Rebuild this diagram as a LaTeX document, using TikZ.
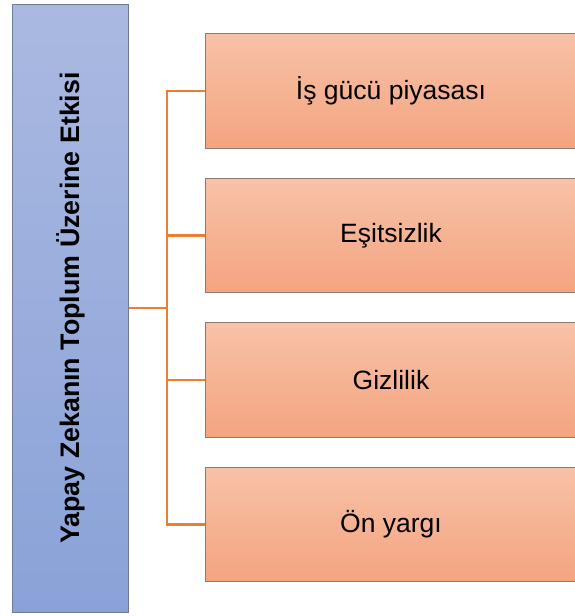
\documentclass[tikz,border=0pt]{standalone}
\usepackage{fontspec}
\setmainfont{Liberation Sans}
\definecolor{mainTop}{HTML}{AAB9E1}
\definecolor{mainBot}{HTML}{8AA2D8}
\definecolor{mainLine}{HTML}{6E7B93}
\definecolor{subTop}{HTML}{F7C2A8}
\definecolor{subBot}{HTML}{F4A47F}
\definecolor{subLine}{HTML}{8A7A72}
\definecolor{conn}{HTML}{ED7D31}
\begin{document}
\begin{tikzpicture}[x=1pt,y=1pt,
  mainbox/.style={draw=mainLine, line width=1pt, top color=mainTop, bottom color=mainBot,
    minimum width=115.3pt, minimum height=608pt, inner sep=0pt},
  subbox/.style={draw=subLine, line width=1pt, top color=subTop, bottom color=subBot,
    minimum width=372pt, minimum height=114.5pt, inner sep=0pt,
    font=\fontsize{26.5}{30}\selectfont},
  connline/.style={draw=conn, line width=2.2pt}]
\useasboundingbox (0,0) rectangle (575,-616);
\node[mainbox] (main) at (70.35,-308) {};
\node[rotate=90, font=\fontsize{26.8}{30}\selectfont\bfseries] at (main.center) {Yapay Zekanın Toplum Üzerine Etkisi};
\node[subbox] (b1) at (391,-91) {İş gücü piyasası};
\node[subbox] (b2) at (391,-235.5) {Eşitsizlik};
\node[subbox] (b3) at (391,-380) {Gizlilik};
\node[subbox] (b4) at (391,-524.5) {Ön yargı};
\coordinate (j) at (166.7,-308);
\coordinate (jt) at (j |- b1.west);
\coordinate (jb) at (j |- b4.west);
\draw[connline] (main.east) -- (j);
\draw[connline] (b1.west) -- (jt) -- (jb) -- (b4.west);
\draw[connline] (b2.west) -- (j |- b2.west);
\draw[connline] (b3.west) -- (j |- b3.west);
\end{tikzpicture}
\end{document}
